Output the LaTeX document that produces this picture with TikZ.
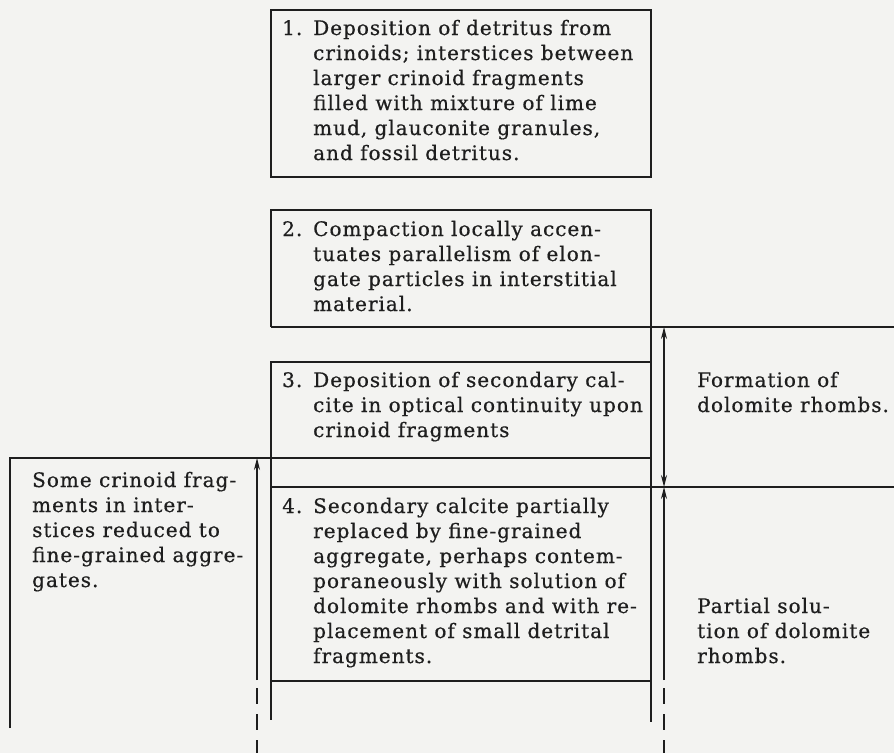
\documentclass[tikz,border=0pt]{standalone}
\usepackage{fontspec}
\setmainfont{DejaVu Serif}[LetterSpace=5,FakeBold=0.6]
\usetikzlibrary{arrows.meta}
\definecolor{paper}{RGB}{243,243,241}
\definecolor{ink}{RGB}{30,30,30}
\begin{document}
\begin{tikzpicture}[x=1pt,y=-1pt,
  frame/.style={line width=1.3pt, draw=ink},
  txt/.style={anchor=base west, inner sep=0pt, text=ink, font=\fontsize{20}{25}\selectfont},
  arr/.style={line width=1.2pt, draw=ink, -{Stealth[length=12pt,width=6pt]}},
  dbl/.style={line width=1.2pt, draw=ink, {Stealth[length=12pt,width=6pt]}-{Stealth[length=12pt,width=6pt]}},
  dsh/.style={line width=1.2pt, draw=ink, dash pattern=on 16pt off 10pt}]
\fill[paper] (0,0) rectangle (894,753);
\useasboundingbox (0,0) rectangle (894,753);

% frame lines
\draw[frame] (271,10) rectangle (651,177);
\draw[frame] (271,327) -- (271,210) -- (651,210) -- (651,722);
\draw[frame] (271,327) -- (894,327);
\draw[frame] (651,362) -- (271,362) -- (271,720);
\draw[frame] (10,728) -- (10,458) -- (651,458);
\draw[frame] (271,487) -- (894,487);
\draw[frame] (271,681) -- (651,681);

% arrows
\coordinate (la) at (257,458);
\coordinate (lb) at (257,680);
\coordinate (lc) at (257,688);
\coordinate (ld) at (257,753);
\coordinate (ra) at (664,327);
\coordinate (rb) at (664,487);
\coordinate (rc) at (664,680);
\coordinate (rd) at (664,688);
\coordinate (re) at (664,753);
\draw[arr] (lb) -- (la);
\draw[dsh] (lc) -- (ld);
\draw[dbl] (rb) -- (ra);
\draw[arr] (rc) -- (rb);
\draw[dsh] (rd) -- (re);

% box texts
\node[txt] (n1) at (282,35) {1.};
\node[txt] (t1) at (313,35) {\begin{tabular}[t]{@{}l@{}}Deposition of detritus from\\crinoids; interstices between\\larger crinoid fragments\\filled with mixture of lime\\mud, glauconite granules,\\and fossil detritus.\end{tabular}};
\node[txt] (n2) at (282,236) {2.};
\node[txt] (t2) at (313,236) {\begin{tabular}[t]{@{}l@{}}Compaction locally accen-\\tuates parallelism of elon-\\gate particles in interstitial\\material.\end{tabular}};
\node[txt] (n3) at (282,387) {3.};
\node[txt] (t3) at (313,387) {\begin{tabular}[t]{@{}l@{}}Deposition of secondary cal-\\cite in optical continuity upon\\crinoid fragments\end{tabular}};
\node[txt] (n4) at (282,513) {4.};
\node[txt] (t4) at (313,513) {\begin{tabular}[t]{@{}l@{}}Secondary calcite partially\\replaced by fine-grained\\aggregate, perhaps contem-\\poraneously with solution of\\dolomite rhombs and with re-\\placement of small detrital\\fragments.\end{tabular}};

% side texts
\node[txt] (s1) at (697,387) {\begin{tabular}[t]{@{}l@{}}Formation of\\dolomite rhombs.\end{tabular}};
\node[txt] (s2) at (697,613) {\begin{tabular}[t]{@{}l@{}}Partial solu-\\tion of dolomite\\rhombs.\end{tabular}};
\node[txt] (s3) at (32,487) {\begin{tabular}[t]{@{}l@{}}Some crinoid frag-\\ments in inter-\\stices reduced to\\fine-grained aggre-\\gates.\end{tabular}};
\end{tikzpicture}
\end{document}
